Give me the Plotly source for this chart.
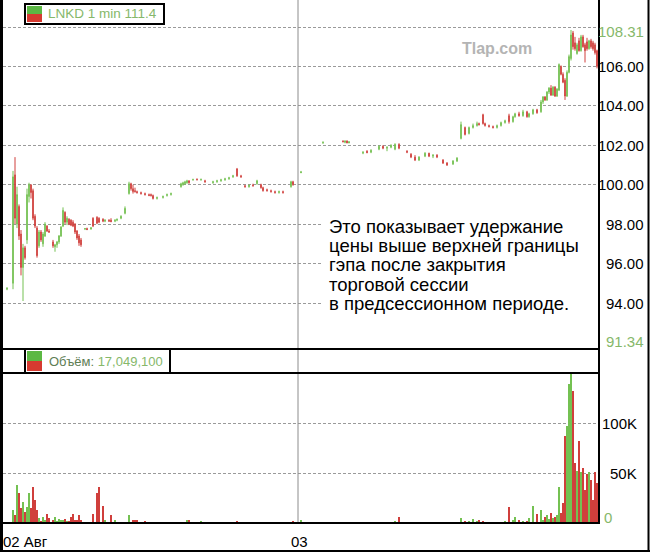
import plotly.graph_objects as go

# ---------------- data ----------------
# x positions are 1-minute slots on a compressed two-day axis
slot_day1 = [2, 5, 6, 7, 8, 9, 10, 11, 12, 13,
             14, 15, 16, 17, 18, 19, 20, 21, 22, 23,
             25, 26, 27, 28, 29, 30, 31, 32, 33, 34,
             35, 36, 37, 38, 39, 41, 42, 44, 45, 47,
             48, 50, 51, 53, 54, 56, 57, 59, 61, 63,
             64, 65, 66, 67, 69, 71, 73, 74, 75, 77,
             80, 82, 84, 89, 90, 91, 92, 93, 95, 97,
             99, 101, 105, 107, 109, 111, 113, 115, 117, 119,
             121, 123, 125, 127, 129, 130, 132, 134, 136, 138,
             140, 144, 145]
open_day1 = [94.70, 95.00, 100.50, 98.00, 98.90, 97.50, 95.80, 96.80, 97.20, 99.40,
             100.00, 99.70, 98.40, 97.80, 96.90, 97.60, 97.00, 97.40, 97.90, 97.65,
             97.10, 96.85, 96.95, 97.10, 97.40, 97.90, 98.60, 98.10, 98.25, 98.20,
             98.10, 98.00, 97.65, 97.40, 97.20, 97.75, 97.78, 97.75, 98.30, 98.35,
             98.30, 98.25, 98.15, 98.20, 98.20, 98.15, 98.20, 98.30, 98.55, 99.55,
             100.05, 99.80, 99.70, 99.65, 99.60, 99.55, 99.50, 99.50, 99.45, 99.30,
             99.35, 99.45, 99.50, 99.90, 100.00, 100.05, 100.10, 100.20, 100.25, 100.28,
             100.25, 100.20, 100.10, 100.15, 100.20, 100.25, 100.30, 100.40, 100.80, 100.45,
             99.95, 99.90, 99.98, 100.05, 100.00, 99.85, 99.75, 99.70, 99.65, 99.60,
             99.65, 99.90, 100.15]
high_day1 = [94.80, 100.70, 101.40, 99.90, 99.00, 97.70, 97.00, 96.90, 99.80, 100.10,
             100.00, 99.80, 98.50, 97.90, 97.70, 97.70, 97.60, 98.10, 97.95, 97.75,
             97.20, 97.00, 97.15, 97.45, 97.90, 98.85, 98.65, 98.40, 98.30, 98.25,
             98.20, 98.05, 97.70, 97.50, 97.30, 97.80, 97.82, 97.85, 98.35, 98.40,
             98.35, 98.30, 98.25, 98.25, 98.30, 98.25, 98.28, 98.45, 98.90, 100.15,
             100.10, 100.00, 99.85, 99.70, 99.65, 99.60, 99.55, 99.55, 99.50, 99.40,
             99.45, 99.55, 99.60, 100.10, 100.15, 100.20, 100.25, 100.22, 100.30, 100.32,
             100.30, 100.25, 100.20, 100.25, 100.30, 100.35, 100.40, 100.50, 100.85, 100.50,
             100.00, 100.00, 100.05, 100.25, 100.05, 99.90, 99.80, 99.75, 99.70, 99.70,
             99.70, 100.20, 100.20]
low_day1 = [94.65, 94.70, 98.00, 97.80, 97.20, 95.40, 94.10, 96.20, 97.00, 99.10,
            99.30, 98.20, 97.80, 96.30, 96.80, 97.10, 96.85, 97.35, 97.60, 97.55,
            96.80, 96.60, 96.80, 97.00, 97.35, 97.85, 98.00, 97.95, 97.95, 97.90,
            97.85, 97.50, 97.20, 96.90, 96.85, 97.70, 97.70, 97.72, 97.85, 98.00,
            98.05, 98.10, 98.10, 98.12, 98.10, 98.10, 98.15, 98.25, 98.50, 99.50,
            99.70, 99.55, 99.60, 99.55, 99.50, 99.45, 99.42, 99.40, 99.25, 99.25,
            99.30, 99.40, 99.45, 99.85, 99.95, 100.00, 100.05, 100.05, 100.20, 100.22,
            100.20, 100.10, 100.05, 100.10, 100.15, 100.20, 100.25, 100.35, 100.40, 100.35,
            99.85, 99.85, 99.90, 100.00, 99.80, 99.65, 99.65, 99.60, 99.55, 99.55,
            99.55, 99.85, 99.95]
close_day1 = [94.75, 100.40, 98.30, 99.50, 97.40, 95.80, 96.80, 96.30, 99.50, 100.00,
              99.60, 98.30, 97.90, 96.40, 97.60, 97.20, 97.50, 98.00, 97.65, 97.60,
              96.90, 96.95, 97.10, 97.40, 97.85, 98.70, 98.10, 98.30, 98.00, 97.95,
              97.90, 97.60, 97.30, 97.05, 96.95, 97.78, 97.72, 97.82, 97.90, 98.05,
              98.10, 98.15, 98.20, 98.15, 98.12, 98.20, 98.25, 98.40, 98.80, 100.05,
              99.80, 99.65, 99.65, 99.60, 99.55, 99.50, 99.45, 99.45, 99.30, 99.35,
              99.40, 99.50, 99.55, 100.05, 100.10, 100.15, 100.20, 100.10, 100.27, 100.25,
              100.28, 100.15, 100.15, 100.20, 100.25, 100.30, 100.35, 100.45, 100.45, 100.40,
              99.90, 99.98, 99.95, 100.20, 99.85, 99.70, 99.70, 99.65, 99.60, 99.65,
              99.60, 100.15, 100.00]
volk_day1 = [1, 13, 8, 38, 30, 15, 21, 11, 16, 30,
             15, 36, 23, 13, 5, 2, 6, 3, 9, 5,
             3, 6, 2, 4, 3, 3, 4, 2, 2, 6,
             9, 3, 3, 8, 3, 1, 1, 1, 9, 30,
             36, 17, 3, 1, 8, 3, 1, 1, 1, 8,
             1, 3, 3, 3, 1, 2, 1, 1, 1, 1,
             1, 1, 1, 1, 1, 1, 3, 3, 1, 1,
             2, 1, 1, 1, 1, 1, 1, 1, 2, 1,
             1, 1, 1, 1, 1, 1, 1, 1, 1, 1,
             1, 1, 2]

slot_day2 = [149, 160, 170, 171, 172, 173, 180, 182, 184, 188,
             190, 192, 194, 196, 198, 202, 204, 206, 208, 211,
             213, 215, 217, 220, 222, 225, 227, 229, 231, 233,
             235, 237, 238, 240, 241, 243, 245, 247, 249, 251,
             253, 255, 256, 258, 260, 262, 263, 265, 267, 269,
             270, 271, 272, 273, 274, 275, 276, 277, 278, 279,
             280, 281, 282, 283, 284, 285, 286, 287, 288, 289,
             290, 291, 292, 293, 294, 295, 296, 297]
open_day2 = [100.60, 102.10, 102.22, 102.15, 102.22, 102.12, 101.60, 101.70, 101.65, 101.80,
             101.95, 101.85, 101.90, 101.80, 102.05, 101.70, 101.55, 101.40, 101.25, 101.45,
             101.60, 101.45, 101.50, 101.25, 101.10, 101.05, 101.20, 102.35, 102.90, 102.60,
             102.90, 103.00, 103.10, 103.55, 103.10, 103.00, 102.95, 102.90, 103.00, 103.15,
             103.50, 103.20, 103.45, 103.60, 103.50, 103.70, 103.45, 103.60, 103.80, 103.70,
             104.20, 104.45, 104.30, 104.70, 104.90, 104.55, 104.95, 104.50, 104.80, 106.00,
             105.60, 105.30, 104.50, 105.70, 106.40, 107.70, 107.20, 106.65, 107.30, 106.80,
             107.50, 107.10, 107.25, 106.90, 107.30, 107.20, 107.10, 106.80]
high_day2 = [100.70, 102.20, 102.25, 102.25, 102.25, 102.20, 101.70, 101.75, 101.80, 102.00,
             102.00, 101.95, 102.05, 102.10, 102.10, 101.75, 101.60, 101.50, 101.45, 101.65,
             101.62, 101.55, 101.55, 101.30, 101.15, 101.25, 101.40, 103.20, 102.95, 102.95,
             103.10, 103.20, 103.15, 103.60, 103.15, 103.05, 103.00, 103.05, 103.20, 103.30,
             103.60, 103.50, 103.65, 103.70, 103.80, 103.75, 103.65, 103.85, 103.85, 104.30,
             104.50, 104.50, 104.75, 104.95, 105.05, 105.00, 105.00, 104.90, 106.15, 106.05,
             105.70, 105.40, 105.80, 106.60, 107.85, 107.80, 107.50, 107.20, 107.45, 107.60,
             107.60, 107.20, 107.45, 107.35, 107.40, 107.30, 107.20, 106.85]
low_day2 = [100.60, 102.10, 102.15, 102.10, 102.10, 102.10, 101.55, 101.60, 101.60, 101.75,
            101.80, 101.70, 101.85, 101.75, 101.80, 101.60, 101.35, 101.20, 101.20, 101.40,
            101.40, 101.35, 101.35, 101.05, 100.95, 101.00, 101.15, 102.30, 102.50, 102.55,
            102.85, 102.95, 103.00, 103.05, 102.95, 102.90, 102.85, 102.85, 102.95, 103.10,
            103.10, 103.15, 103.40, 103.45, 103.45, 103.40, 103.40, 103.55, 103.60, 103.65,
            104.10, 104.25, 104.25, 104.60, 104.50, 104.50, 104.45, 104.45, 104.75, 105.55,
            105.15, 104.30, 104.45, 105.65, 106.30, 106.85, 106.80, 106.60, 106.75, 106.75,
            106.95, 106.20, 106.80, 106.85, 106.90, 106.80, 106.60, 105.90]
close_day2 = [100.65, 102.15, 102.18, 102.22, 102.12, 102.18, 101.65, 101.62, 101.75, 101.95,
              101.85, 101.90, 102.00, 102.05, 101.85, 101.65, 101.40, 101.25, 101.40, 101.60,
              101.45, 101.50, 101.40, 101.10, 101.00, 101.20, 101.35, 103.05, 102.55, 102.90,
              103.00, 103.10, 103.05, 103.10, 103.00, 102.95, 102.90, 103.00, 103.15, 103.25,
              103.20, 103.45, 103.60, 103.50, 103.70, 103.45, 103.60, 103.80, 103.65, 104.20,
              104.45, 104.30, 104.70, 104.90, 104.55, 104.95, 104.50, 104.85, 106.10, 105.60,
              105.20, 104.50, 105.70, 106.50, 107.60, 107.00, 106.90, 107.10, 106.80, 107.50,
              107.00, 106.80, 106.90, 107.30, 107.00, 106.90, 106.70, 106.00]
volk_day2 = [3, 1, 1, 1, 1, 1, 1, 1, 1, 1,
             1, 1, 1, 2, 6, 1, 1, 1, 1, 1,
             1, 1, 1, 1, 1, 1, 1, 5, 2, 2,
             4, 2, 3, 2, 1, 1, 1, 1, 1, 2,
             16, 3, 6, 3, 2, 2, 5, 17, 9, 13,
             3, 6, 8, 4, 10, 5, 6, 8, 36, 10,
             20, 87, 97, 139, 150, 132, 60, 52, 82, 51,
             55, 33, 49, 51, 43, 23, 51, 40]

price_grid = [94, 96, 98, 100, 102, 104, 106, 108]
price_labels = [94, 96, 98, 100, 102, 104, 106]
vol_ticks = [50000, 100000]
vol_tick_text = ["50K", "100K"]
price_high_label = "108.31"
price_low_label = "91.34"
legend_price = "LNKD 1 min 111.4"
legend_vol_name = "Объём:"
legend_vol_value = "17,049,100"
day_labels = ["02 Авг", "03"]
note_lines = ["Это показывает удержание",
              "цены выше верхней границы",
              "гэпа после закрытия",
              "торговой сессии",
              "в предсессионном периоде."]

# ---------------- build ----------------
slots = slot_day1 + slot_day2
opens = open_day1 + open_day2
highs = high_day1 + high_day2
lows = low_day1 + low_day2
closes = close_day1 + close_day2
vols = [v * 1000 for v in volk_day1 + volk_day2]

G = "#74c152"
R = "#d03f3c"
TXT_G = "#86b86a"
FONT = "Liberation Sans, Arial, sans-serif"

W, H = 650, 557
ML, MR, MT, MB = 3, 52, 0, 34
PW = W - ML - MR
PH = H - MT - MB


def px_x(px):
    return (px - ML) / PW


def px_y(py):
    return (MT + PH - py) / PH


vcolors = [G if c >= o else R for o, c in zip(opens, closes)]

fig = go.Figure()
fig.add_trace(go.Candlestick(
    x=slots, open=opens, high=highs, low=lows, close=closes,
    increasing=dict(line=dict(color=G, width=1), fillcolor=G),
    decreasing=dict(line=dict(color=R, width=1), fillcolor=R),
    whiskerwidth=0, showlegend=False, hoverinfo="skip",
    xaxis="x", yaxis="y"))
fig.add_trace(go.Bar(
    x=slots, y=vols, marker=dict(color=vcolors, line=dict(width=0)),
    width=0.8, showlegend=False, hoverinfo="skip",
    xaxis="x2", yaxis="y2"))

# price axis geometry: 94 at py 303, 108 at py 27
ppx = (303 - 27) / 14.0
p_top = 94 + 303 / ppx
p_bot = 94 - (349 - 303) / ppx

grid = dict(showgrid=True, gridcolor="#9a9a9a", gridwidth=1, griddash="3px,2px",
            zeroline=False, showticklabels=False, ticks="", showline=False)

fig.update_layout(
    width=W, height=H,
    margin=dict(l=ML, r=MR, t=MT, b=MB, pad=0),
    paper_bgcolor="white", plot_bgcolor="white",
    font=dict(family=FONT, size=14, color="black"),
    showlegend=False,
    boxgap=0.55,
    xaxis=dict(domain=[0, 1], range=[0, 297.5], anchor="y", showgrid=False,
               zeroline=False, showticklabels=False, ticks="",
               rangeslider=dict(visible=False)),
    xaxis2=dict(domain=[0, 1], range=[0, 297.5], anchor="y2", matches="x",
                showgrid=False, zeroline=False, showticklabels=False, ticks=""),
    yaxis=dict(domain=[px_y(349), 1], range=[p_bot, p_top], tickvals=price_grid,
               side="right", **grid),
    yaxis2=dict(domain=[0, px_y(373)], range=[0, 150000], tickvals=vol_ticks,
                side="right", **grid),
)

shapes = []


def hline(py, x0, x1, w=2, color="black"):
    shapes.append(dict(type="line", xref="paper", yref="paper",
                       x0=px_x(x0), x1=px_x(x1), y0=px_y(py), y1=px_y(py),
                       line=dict(color=color, width=w)))


def vline(px, y0, y1, w=2, color="black"):
    shapes.append(dict(type="line", xref="paper", yref="paper",
                       x0=px_x(px), x1=px_x(px), y0=px_y(y0), y1=px_y(y1),
                       line=dict(color=color, width=w)))


def rect(x0, y0, x1, y1, fill, lw=0, lc="black"):
    shapes.append(dict(type="rect", xref="paper", yref="paper",
                       x0=px_x(x0), x1=px_x(x1), y0=px_y(y0), y1=px_y(y1),
                       fillcolor=fill, line=dict(color=lc, width=lw)))


# note background (covers grid lines)
rect(322, 213, 597, 314, "white")
# day separator
shapes.append(dict(type="line", xref="x", yref="paper", x0=147.5, x1=147.5,
                   y0=0, y1=1, line=dict(color="#8c8c8c", width=1)))
# frame lines
hline(349, 0, 600)
hline(373, 0, 600)
hline(523, 0, 600)
hline(551, 0, 650)
vline(1.5, 0, 552, w=3)
vline(599, 0, 523)
vline(648.5, 0, 552)
# legend boxes
rect(25, 4, 164, 24, "white", 2)
rect(27, 6, 42, 14, "#5cb844")
rect(27, 14, 42, 22, "#d63a30")
rect(25, 349, 170, 373, "white", 2)
rect(27, 351, 42, 361, "#5cb844")
rect(27, 361, 42, 371, "#d63a30")
fig.update_layout(shapes=shapes)

ann = []


def text(t, px, py, anchor="left", size=14, color="black", bold=False, yref=None, yval=None):
    a = dict(text=f"<b>{t}</b>" if bold else t, xref="paper", x=px_x(px),
             xanchor=anchor, yanchor="middle", showarrow=False,
             font=dict(family=FONT, size=size, color=color))
    if yref:
        a.update(yref=yref, y=yval)
    else:
        a.update(yref="paper", y=px_y(py))
    ann.append(a)


for v in price_labels:
    text(f"{v:.2f}", 646, 0, anchor="right", size=15, yref="y", yval=v)
text(price_high_label, 646, 31, anchor="right", size=15, color=TXT_G)
text(price_low_label, 646, 341, anchor="right", size=15, color=TXT_G)
for v, t in zip(vol_ticks, vol_tick_text):
    text(t, 639, 0, anchor="right", size=15, yref="y2", yval=v)
text("0", 602, 517, size=15, color=TXT_G)
text(day_labels[0], 1, 541, size=15)
text(day_labels[1], 289, 541, size=15)
text(legend_price, 46, 14, size=13.5, color=TXT_G)
text(f"<span style='color:#5e7d54'>{legend_vol_name}</span> {legend_vol_value}",
     47, 361, size=13, color=TXT_G)
text("Tlap.com", 497, 49, anchor="center", size=16, color="#b4b4b4", bold=True)
for i, line in enumerate(note_lines):
    text(line, 327, 226 + i * 19.5, size=18.5)
fig.update_layout(annotations=ann)

fig.write_html("out.html")
